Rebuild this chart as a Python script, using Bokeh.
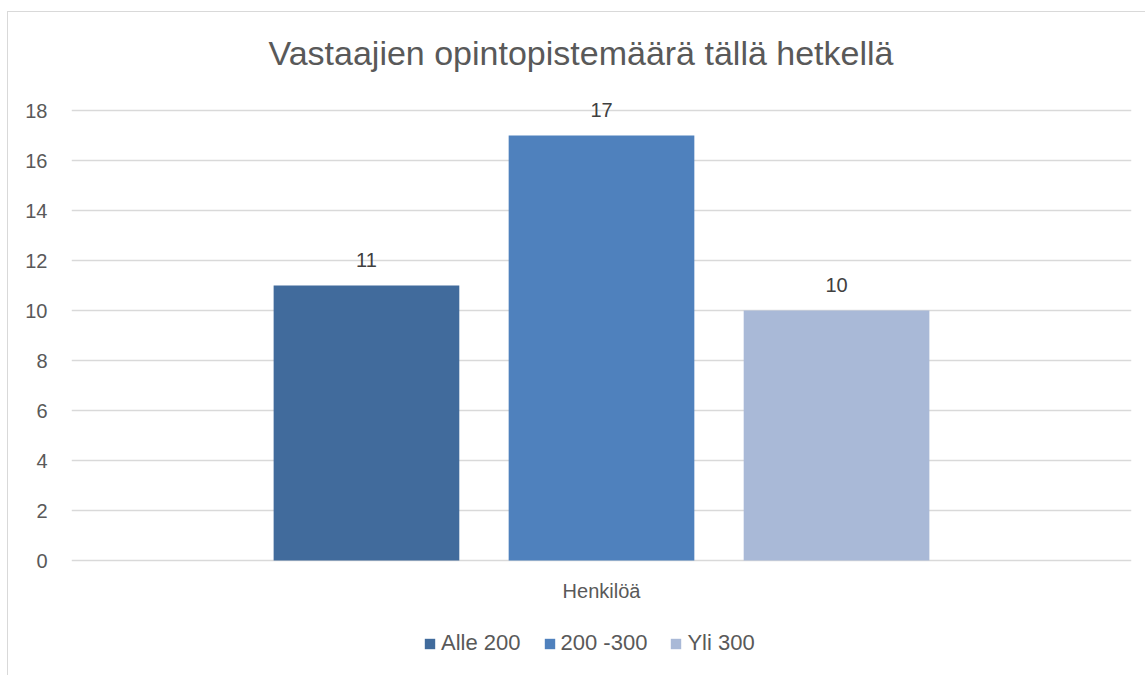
from bokeh.plotting import figure
from bokeh.layouts import row, column
from bokeh.models import (FactorRange, Range1d, FixedTicker, ColumnDataSource,
                          LabelSet, Label, Legend, LegendItem, Spacer)
from bokeh.embed import file_html
from bokeh.resources import INLINE
from bokeh.core.properties import value

# ---- data ----
title_text = "Vastaajien opintopistemäärä tällä hetkellä"
category = "Henkilöä"
series = ["Alle 200", "200 -300", "Yli 300"]
counts = [11, 17, 10]
colors = ["#416B9C", "#4F81BD", "#A9B9D7"]
y_ticks = [0, 2, 4, 6, 8, 10, 12, 14, 16, 18]

FONT = "Liberation Sans"
TXT = "#595959"

src = ColumnDataSource(dict(x=series, y=counts, color=colors,
                            label=[str(v) for v in counts]))

# frame extended below 0 so that the category label and legend (drawn as
# annotations, which are clipped to the frame) remain visible
p = figure(width=1138, height=664, output_backend="svg", toolbar_location=None,
           x_range=FactorRange(factors=series, range_padding=0.755,
                               range_padding_units="absolute"),
           y_range=Range1d(-4.4, 18.8), x_axis_location=None,
           min_border_left=63, min_border_right=15,
           min_border_top=78, min_border_bottom=6)
p.styles = {"border-left": "1px solid #d9d9d9", "border-top": "1px solid #d9d9d9"}

p.outline_line_color = None
p.background_fill_color = "white"
p.border_fill_color = "white"

r = p.vbar(x="x", top="y", bottom=0, width=0.79, fill_color="color",
           line_color=None, source=src)

# grids
p.xgrid.grid_line_color = None
p.ygrid.grid_line_color = "#d9d9d9"
p.ygrid.grid_line_width = 1.5
p.ygrid.ticker = FixedTicker(ticks=y_ticks)

# y axis
p.yaxis.ticker = FixedTicker(ticks=y_ticks)
p.yaxis.axis_line_color = None
p.yaxis.major_tick_line_color = None
p.yaxis.minor_tick_line_color = None
p.yaxis.major_tick_out = 0
p.yaxis.major_label_standoff = 24
p.yaxis.major_label_text_font = FONT
p.yaxis.major_label_text_font_size = "20px"
p.yaxis.major_label_text_color = TXT

# category label under the bars
cat = Label(x=530, y=80, x_units="screen", y_units="screen", text=category,
            text_align="center", text_baseline="middle",
            text_font=FONT, text_font_size="20px", text_color=TXT)
p.add_layout(cat)

# data labels
labels = LabelSet(x="x", y="y", text="label", source=src, y_offset=19,
                  text_align="center", text_baseline="alphabetic",
                  text_font=value(FONT), text_font_size="20px", text_color="#404040")
p.add_layout(labels)

# title
p.title.text = title_text
p.title.align = "left"
p.title.offset = 197
p.title.standoff = 37
p.title.text_font = FONT
p.title.text_font_size = "34px"
p.title.text_font_style = "normal"
p.title.text_color = TXT

# legend
items = []
for i, s in enumerate(series):
    items.append(LegendItem(label=s, renderers=[r], index=i))
leg = Legend(items=items, orientation="horizontal", location=(352, 14),
             glyph_width=13, glyph_height=13, label_standoff=5, spacing=22,
             padding=0, margin=0, border_line_color=None, background_fill_alpha=0,
             label_text_font=FONT, label_text_font_size="22px", label_text_color=TXT)
p.add_layout(leg)

layout = row(Spacer(width=7), column(Spacer(height=11), p))
open("out.html", "w").write(file_html(layout, INLINE))
